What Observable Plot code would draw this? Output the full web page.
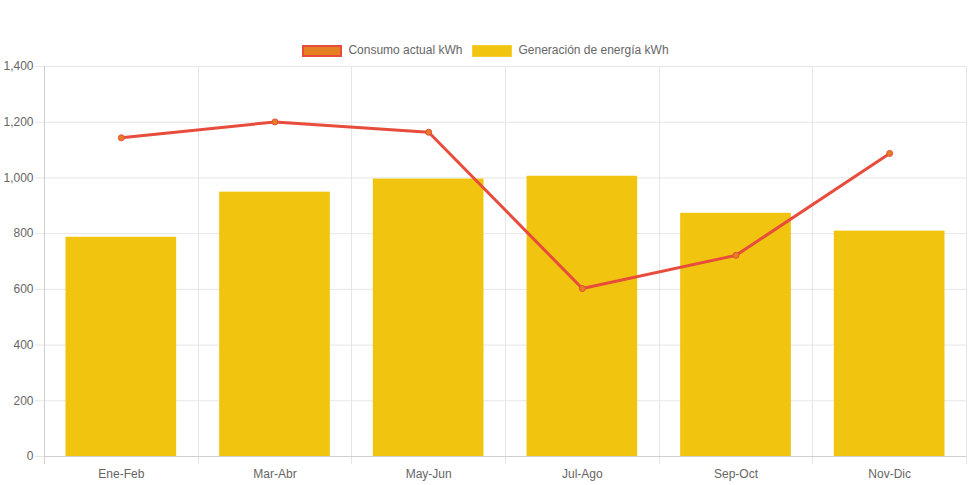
<!DOCTYPE html>
<html>
<head>
<meta charset="utf-8">
<script src="https://cdn.jsdelivr.net/npm/d3@7"></script>
<script src="https://cdn.jsdelivr.net/npm/@observablehq/plot@0.6"></script>
<style>
  body { margin: 0; background: #fff; font-family: "Liberation Sans", Arial, Helvetica, sans-serif; }
  #legend { height: 58px; box-sizing: border-box; padding-top: 44px; display: flex; justify-content: center; align-items: flex-start; font-size: 12px; color: #666; }
  .item { display: flex; align-items: center; height: 13px; margin: 0 5px; }
  .box { width: 40px; height: 12px; box-sizing: border-box; margin-right: 6px; }
  .item span { line-height: 13px; }
  svg { display: block; }
</style>
</head>
<body>
<div id="legend"></div>
<div id="chart"></div>
<script>
const categories = ["Ene-Feb", "Mar-Abr", "May-Jun", "Jul-Ago", "Sep-Oct", "Nov-Dic"];
const generacion = [787, 949, 996, 1006, 873, 809];
const consumo = [1144, 1201, 1164, 603, 722, 1088];
const yTicks = [0, 200, 400, 600, 800, 1000, 1200, 1400];
const seriesNames = ["Consumo actual kWh", "Generación de energía kWh"];

const lineColor = "#E74C3C";
const pointFill = "#E67E22";
const barColor = "#F1C40F";

const legend = document.getElementById("legend");
legend.innerHTML = `
  <div class="item"><div class="box" style="background:${pointFill};border:2px solid ${lineColor}"></div><span>${seriesNames[0]}</span></div>
  <div class="item"><div class="box" style="background:${barColor};border:1px solid #f3cd3a"></div><span>${seriesNames[1]}</span></div>`;

const rows = categories.map((c, i) => ({cat: c, gen: generacion[i], con: consumo[i]}));

// vertical grid at category boundaries (Chart.js offset grid), drawn from the x band scale
function boundaryGrid(index, scales, values, dims) {
  const x = scales.x, y = scales.y;
  const bw = typeof x.bandwidth === "function" ? x.bandwidth() : x.bandwidth;
  const g = d3.create("svg:g");
  const top = y(yTicks[yTicks.length - 1]);
  const bottom = y(0) + 8;
  const xs = categories.map(c => x(c)).concat([x(categories[categories.length - 1]) + bw]);
  xs.forEach((px, i) => {
    g.append("line")
      .attr("x1", Math.round(px) + 0.5).attr("x2", Math.round(px) + 0.5)
      .attr("y1", top).attr("y2", bottom)
      .attr("stroke", i === 0 ? "#cfcfcf" : "#e6e6e6");
  });
  return g.node();
}

const plot = Plot.plot({
  width: 971,
  height: 427,
  marginTop: 8,
  marginBottom: 29,
  marginLeft: 44,
  marginRight: 5,
  style: {fontFamily: "Liberation Sans, Arial, Helvetica, sans-serif", fontSize: "12px", color: "#666", background: "#fff"},
  x: {domain: categories, padding: 0, round: false, label: null},
  y: {domain: [0, 1400], label: null},
  marks: [
    Plot.gridY(yTicks, {stroke: "#e6e6e6", strokeOpacity: 1}),
    boundaryGrid,
    Plot.axisY(yTicks, {tickSize: 9, tickPadding: 2, stroke: "#e6e6e6", fill: "#666", tickFormat: d3.format(","), label: null, fontSize: 12}),
    Plot.axisX({tickSize: 0, tickPadding: 13, fill: "#666", label: null, fontSize: 12}),
    Plot.barY(rows, {x: "cat", y: "gen", fill: barColor, insetLeft: 21.5, insetRight: 21.5}),
    Plot.ruleY([0], {stroke: "#cfcfcf"}),
    Plot.line(rows, {x: "cat", y: "con", stroke: lineColor, strokeWidth: 3, curve: "linear"}),
    Plot.dot(rows, {x: "cat", y: "con", r: 3, fill: pointFill, stroke: lineColor, strokeWidth: 1})
  ]
});
document.getElementById("chart").appendChild(plot);
</script>
</body>
</html>
